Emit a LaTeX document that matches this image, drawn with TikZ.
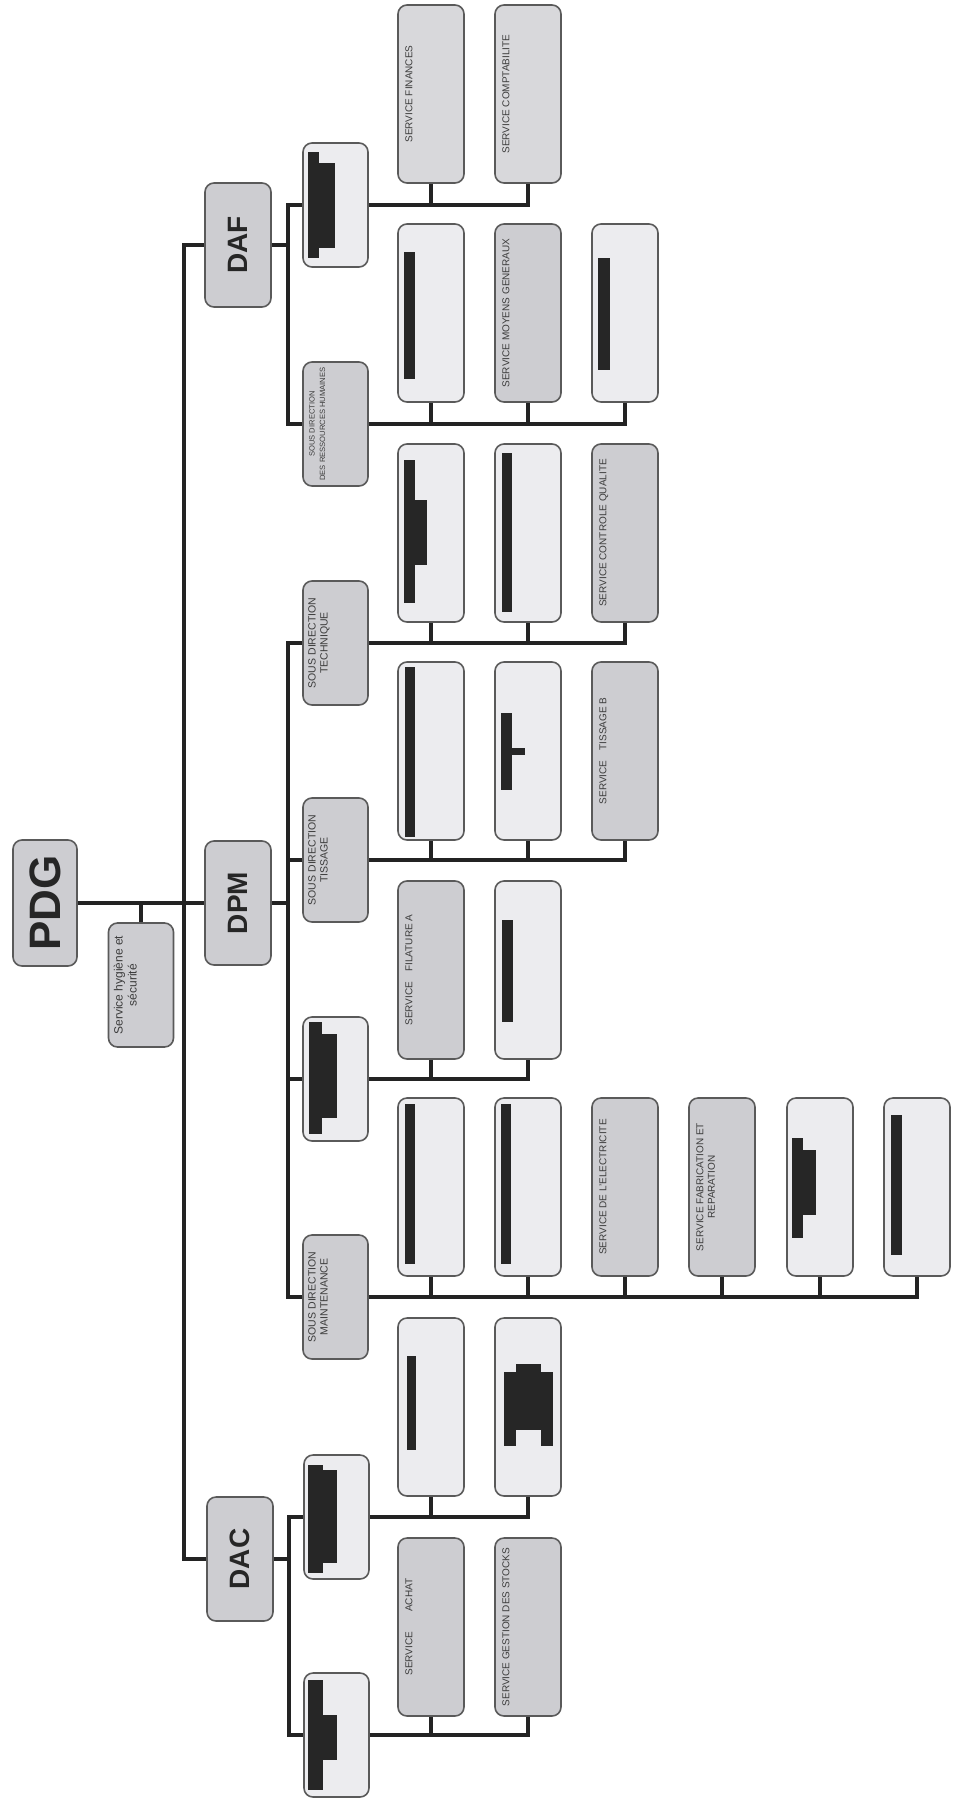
\documentclass[tikz,border=0pt]{standalone}
\usepackage{fontspec}
\setmainfont{Liberation Sans}
\definecolor{boxgray}{RGB}{205,205,209}
\definecolor{boxlight}{RGB}{236,236,239}
\definecolor{boxmid}{RGB}{216,216,219}
\definecolor{linecol}{RGB}{35,35,35}
\definecolor{txtcol}{RGB}{60,60,60}
\definecolor{bordcol}{RGB}{90,90,90}
\begin{document}
\begin{tikzpicture}[x=1pt,y=-1pt,
  box/.style={draw=bordcol, line width=1.6pt, rounded corners=9pt, minimum width=65pt, minimum height=124pt, inner sep=0pt, fill=boxgray},
  child/.style={box, minimum width=66pt, minimum height=178pt},
  light/.style={fill=boxlight},
  mid/.style={fill=boxmid},
  conn/.style={line width=3.5pt, draw=linecol},
  lbl/.style={rotate=90, anchor=north, font=\fontsize{10}{11.5}\selectfont, text=txtcol, align=center, inner sep=0pt},
  slbl/.style={lbl, font=\fontsize{10.5}{12}\selectfont},
  big/.style={rotate=90, font=\bfseries\fontsize{28}{30}\selectfont, text=black!85, inner sep=0pt},
  redact/.style={fill=black!85},
]
\useasboundingbox (0,0) rectangle (956,1798);
\fill[white] (0,0) rectangle (956,1798);

% top levels
\node[box, minimum width=64pt, minimum height=126pt] (pdg) at (45,903) {};
\node[big, font=\bfseries\fontsize{44}{46}\selectfont] (lpdg) at (pdg) {PDG};
\node[box] (hyg) at (141,985) {};
\node[slbl, font=\fontsize{12}{14}\selectfont] (lhyg) at ([xshift=6pt]hyg.west) {Service hygiène et\\sécurité};
\node[box, minimum width=66pt] (daf) at (238,245) {};
\node[big] (ldaf) at (daf) {DAF};
\node[box, minimum width=66pt] (dpm) at (238,903) {};
\node[big] (ldpm) at (dpm) {DPM};
\node[box, minimum width=66pt] (dac) at (240,1559) {};
\node[big] (ldac) at (dac) {DAC};

% sub directions
\node[box, light] (daf1) at (335.5,205) {};
\node[box] (rh) at (335.5,424) {};
\node[slbl, font=\fontsize{7.6}{10.5}\selectfont] (lrh) at ([xshift=7pt]rh.west) {SOUS DIRECTION\\DES RESSOURCES HUMAINES};
\node[box] (tech) at (335.5,643) {};
\node[slbl] (ltech) at ([xshift=6pt]tech.west) {SOUS DIRECTION\\TECHNIQUE};
\node[box] (tiss) at (335.5,860) {};
\node[slbl] (ltiss) at ([xshift=6pt]tiss.west) {SOUS DIRECTION\\TISSAGE};
\node[box, light] (dpma) at (335.5,1079) {};
\node[box] (maint) at (335.5,1297) {};
\node[slbl] (lmaint) at ([xshift=6pt]maint.west) {SOUS DIRECTION\\MAINTENANCE};
\node[box, light] (daca) at (336.5,1517) {};
\node[box, light] (dacb) at (336.5,1735) {};

% children
\node[child, mid] (fin) at (431,94) {};
\node[lbl] (lfin) at ([xshift=8pt]fin.west) {SERVICE FINANCES};
\node[child, mid] (cpt) at (528,94) {};
\node[lbl] (lcpt) at ([xshift=8pt]cpt.west) {SERVICE COMPTABILITE};

\node[child, light] (rha) at (431,313) {};
\node[child] (rhb) at (528,313) {};
\node[lbl] (lrhb) at ([xshift=8pt]rhb.west) {SERVICE MOYENS GENERAUX};
\node[child, light] (rhc) at (625,313) {};

\node[child, light] (tea) at (431,533) {};
\node[child, light] (teb) at (528,533) {};
\node[child] (tec) at (625,533) {};
\node[lbl] (ltec) at ([xshift=8pt]tec.west) {SERVICE CONTROLE QUALITE};

\node[child, light] (tia) at (431,751) {};
\node[child, light] (tib) at (528,751) {};
\node[child] (tic) at (625,751) {};
\node[lbl] (ltic) at ([xshift=8pt]tic.west) {SERVICE\quad TISSAGE B};

\node[child] (dpa) at (431,970) {};
\node[lbl] (ldpa) at ([xshift=8pt]dpa.west) {SERVICE\quad FILATURE A};
\node[child, light] (dpb) at (528,970) {};

\node[child, light] (ma) at (431,1187) {};
\node[child, light] (mb) at (528,1187) {};
\node[child] (mc) at (625,1187) {};
\node[lbl] (lmc) at ([xshift=8pt]mc.west) {SERVICE DE L'ELECTRICITE};
\node[child] (md) at (722,1187) {};
\node[lbl] (lmd) at ([xshift=8pt]md.west) {SERVICE FABRICATION ET\\REPARATION};
\node[child, light] (me) at (820,1187) {};
\node[child, light] (mf) at (917,1187) {};

\node[child, light] (daa) at (431,1407) {};
\node[child, light] (dab) at (528,1407) {};

\node[child] (dba) at (431,1627) {};
\node[lbl] (ldba) at ([xshift=8pt]dba.west) {SERVICE\qquad ACHAT};
\node[child] (dbb) at (528,1627) {};
\node[lbl] (ldbb) at ([xshift=8pt]dbb.west) {SERVICE GESTION DES STOCKS};

% redacted text bars
\fill[redact] (308,152) rectangle (319,258);
\fill[redact] (319,163) rectangle (335,248);
\fill[redact] (404,252) rectangle (415,379);
\fill[redact] (598,258) rectangle (610,370);
\fill[redact] (404,460) rectangle (415,603);
\fill[redact] (415,500) rectangle (427,565);
\fill[redact] (502,453) rectangle (512,612);
\fill[redact] (405,667) rectangle (415,837);
\fill[redact] (501,713) rectangle (512,790);
\fill[redact] (512,748) rectangle (525,755);
\fill[redact] (309,1022) rectangle (322,1134);
\fill[redact] (322,1034) rectangle (337,1118);
\fill[redact] (502,920) rectangle (513,1022);
\fill[redact] (405,1104) rectangle (415,1264);
\fill[redact] (501,1104) rectangle (511,1264);
\fill[redact] (792,1138) rectangle (803,1238);
\fill[redact] (803,1150) rectangle (816,1215);
\fill[redact] (891,1115) rectangle (902,1255);
\fill[redact] (308,1465) rectangle (323,1573);
\fill[redact] (323,1470) rectangle (337,1563);
\fill[redact] (308,1680) rectangle (323,1790);
\fill[redact] (323,1715) rectangle (337,1760);
\fill[redact] (407,1356) rectangle (416,1450);
\fill[redact] (504,1372) rectangle (516,1446);
\fill[redact] (516,1364) rectangle (541,1430);
\fill[redact] (541,1372) rectangle (553,1446);

% connectors
\draw[conn] (pdg.east) -- (dpm.west);
\draw[conn] (hyg.north) -- (hyg.north |- pdg.east);
\draw[conn] (daf.west) -- ++(-20,0) coordinate (tr) |- (dac.west);
\draw[conn] (daf.east) -- ++(16,0) coordinate (dafj);
\draw[conn] (daf1.west) -| (dafj) |- (rh.west);
\draw[conn] (dpm.east) -- ++(16,0) coordinate (dpmj);
\draw[conn] (tech.west) -| (dpmj) |- (maint.west);
\draw[conn] (tiss.west) -- (tiss.west -| dpmj);
\draw[conn] (dpma.west) -- (dpma.west -| dpmj);
\draw[conn] (dac.east) -- ++(15,0) coordinate (dacj);
\draw[conn] (daca.west) -| (dacj) |- (dacb.west);

\draw[conn] (daf1.east) -| (cpt.south);
\draw[conn] (fin.south) -- (fin.south |- daf1.east);
\draw[conn] (rh.east) -| (rhc.south);
\draw[conn] (rha.south) -- (rha.south |- rh.east);
\draw[conn] (rhb.south) -- (rhb.south |- rh.east);
\draw[conn] (tech.east) -| (tec.south);
\draw[conn] (tea.south) -- (tea.south |- tech.east);
\draw[conn] (teb.south) -- (teb.south |- tech.east);
\draw[conn] (tiss.east) -| (tic.south);
\draw[conn] (tia.south) -- (tia.south |- tiss.east);
\draw[conn] (tib.south) -- (tib.south |- tiss.east);
\draw[conn] (dpma.east) -| (dpb.south);
\draw[conn] (dpa.south) -- (dpa.south |- dpma.east);
\draw[conn] (maint.east) -| (mf.south);
\draw[conn] (ma.south) -- (ma.south |- maint.east);
\draw[conn] (mb.south) -- (mb.south |- maint.east);
\draw[conn] (mc.south) -- (mc.south |- maint.east);
\draw[conn] (md.south) -- (md.south |- maint.east);
\draw[conn] (me.south) -- (me.south |- maint.east);
\draw[conn] (daca.east) -| (dab.south);
\draw[conn] (daa.south) -- (daa.south |- daca.east);
\draw[conn] (dacb.east) -| (dbb.south);
\draw[conn] (dba.south) -- (dba.south |- dacb.east);
\end{tikzpicture}
\end{document}
